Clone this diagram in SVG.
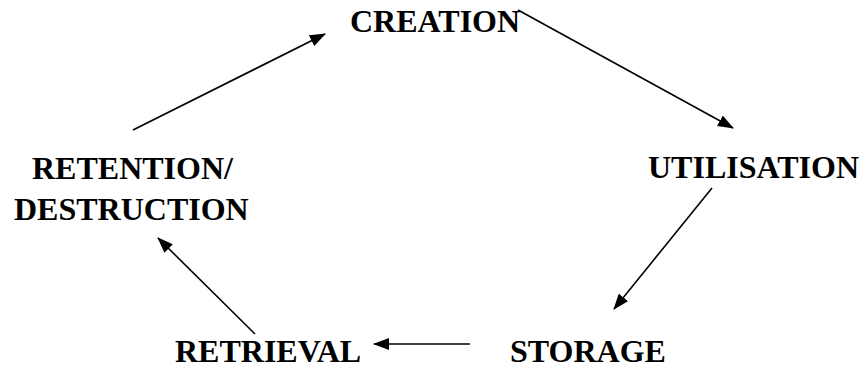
<svg xmlns="http://www.w3.org/2000/svg" width="861" height="366" viewBox="0 0 861 366">
<style>
.lbl{font-family:"Liberation Serif","Times New Roman",serif;font-weight:bold;font-size:32px;fill:#000}
.conn line{stroke:#000;stroke-width:1.6;fill:none}
</style>
<defs>
<marker id="ah" markerUnits="userSpaceOnUse" markerWidth="16" markerHeight="12" refX="15" refY="6" orient="auto">
<path d="M0,0 L16,6 L0,12 z" fill="#000"/>
</marker>
</defs>
<rect width="861" height="366" fill="#fff"/>
<g id="creation"><text class="lbl" x="350" y="32">CREATION</text></g>
<g id="utilisation"><text class="lbl" x="648" y="178">UTILISATION</text></g>
<g id="storage"><text class="lbl" x="510" y="362">STORAGE</text></g>
<g id="retrieval"><text class="lbl" x="175" y="362">RETRIEVAL</text></g>
<g id="retention"><text class="lbl" x="32" y="179">RETENTION/</text><text class="lbl" x="14" y="220">DESTRUCTION</text></g>
<g class="conn" id="connectors">
<line x1="518" y1="10" x2="733" y2="128" marker-end="url(#ah)"/>
<line x1="712" y1="188" x2="614" y2="309" marker-end="url(#ah)"/>
<line x1="470" y1="344" x2="374" y2="344" marker-end="url(#ah)"/>
<line x1="255" y1="334" x2="158" y2="238" marker-end="url(#ah)"/>
<line x1="133" y1="130" x2="325" y2="34" marker-end="url(#ah)"/>
</g>
</svg>
